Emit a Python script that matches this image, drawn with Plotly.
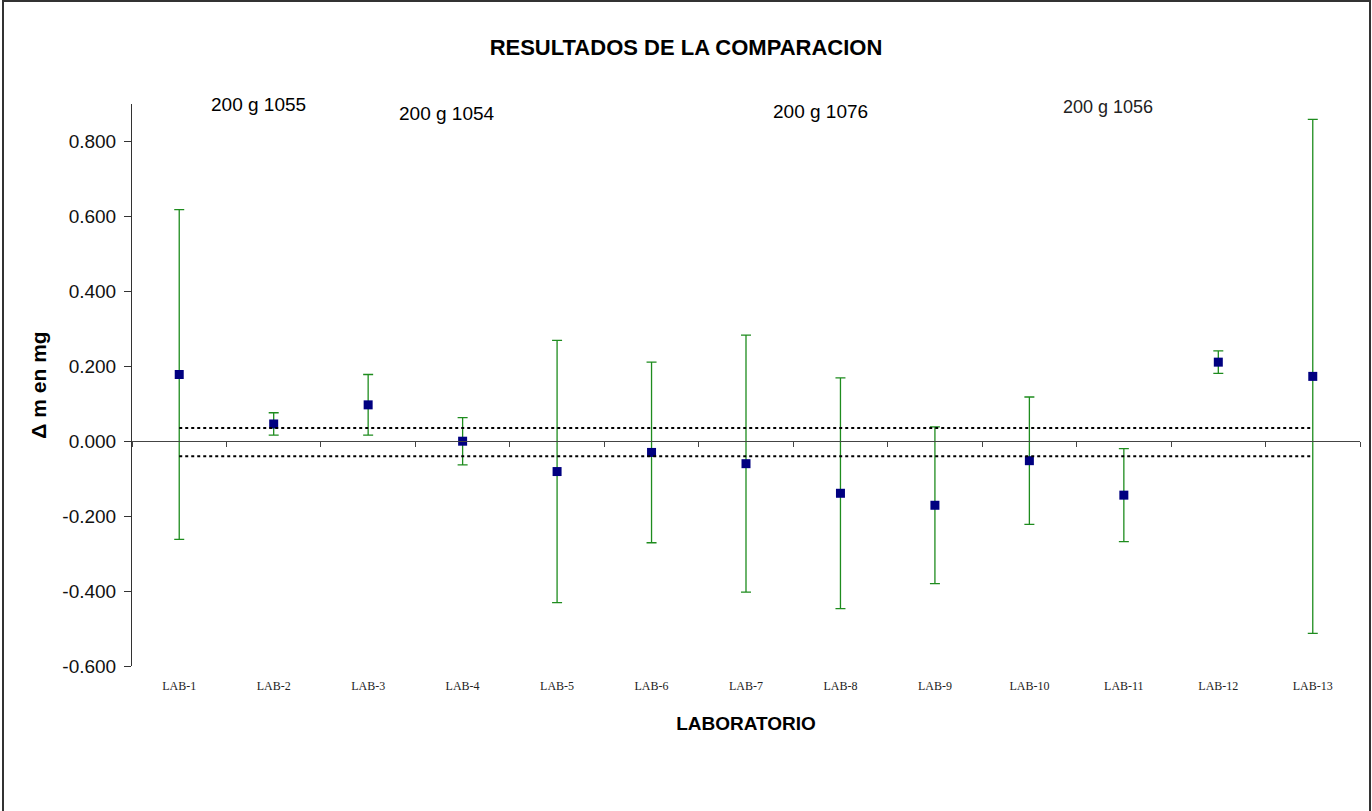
import plotly.graph_objects as go

# Interlaboratory comparison: deviation per laboratory with expanded uncertainty
labs = ["LAB-1", "LAB-2", "LAB-3", "LAB-4", "LAB-5", "LAB-6", "LAB-7",
        "LAB-8", "LAB-9", "LAB-10", "LAB-11", "LAB-12", "LAB-13"]
delta_mg = [0.178, 0.046, 0.097, 0.000, -0.081, -0.030, -0.060,
            -0.139, -0.171, -0.052, -0.144, 0.211, 0.173]
uncert_mg = [0.440, 0.030, 0.081, 0.063, 0.350, 0.241, 0.343,
             0.308, 0.209, 0.170, 0.124, 0.030, 0.686]

# Reference value uncertainty band (upper / lower limits)
upper_limit = [0.035] * len(labs)
lower_limit = [-0.040] * len(labs)

y_ticks = [-0.6, -0.4, -0.2, 0.0, 0.2, 0.4, 0.6, 0.8]
y_ticktext = ["-0.600", "-0.400", "-0.200", "0.000", "0.200", "0.400", "0.600", "0.800"]

# Mass standard labels written over the plot: (text, x position, y position)
mass_labels = ["200 g 1055", "200 g 1054", "200 g 1076", "200 g 1056"]
mass_label_x = [1.84, 3.83, 7.79, 10.83]
mass_label_y = [0.899, 0.875, 0.880, 0.893]

x_pos = list(range(1, len(labs) + 1))
boundaries = [i + 0.5 for i in range(0, len(labs) + 1)]

fig = go.Figure()

fig.add_trace(go.Scatter(
    x=x_pos, y=upper_limit, mode="lines", xaxis="x2",
    line=dict(color="black", width=2, dash="dot"), showlegend=False, hoverinfo="skip"))
fig.add_trace(go.Scatter(
    x=x_pos, y=lower_limit, mode="lines", xaxis="x2",
    line=dict(color="black", width=2, dash="dot"), showlegend=False, hoverinfo="skip"))

fig.add_trace(go.Scatter(
    x=x_pos, y=delta_mg, mode="markers",
    marker=dict(symbol="square", size=9, color="#000080", line=dict(width=0)),
    error_y=dict(type="data", array=uncert_mg, symmetric=True,
                 color="#1e8c1e", thickness=1.3, width=5),
    showlegend=False))

for txt, xx, yy in zip(mass_labels, mass_label_x, mass_label_y):
    last = txt == mass_labels[-1]
    fig.add_annotation(
        x=xx, y=yy, xref="x", yref="y", text=txt, showarrow=False,
        font=dict(family="Liberation Sans, Arial", size=19 if not last else 18,
                  color="#000000" if not last else "#222222"))

fig.update_layout(
    width=1372, height=811,
    margin=dict(l=132, r=12, t=104, b=145, pad=0),
    paper_bgcolor="white", plot_bgcolor="white",
    title=dict(text="<b>RESULTADOS DE LA COMPARACION</b>", x=0.5, xref="container",
               y=1 - 47 / 811, yref="container", xanchor="center", yanchor="middle",
               font=dict(family="Liberation Sans, Arial", size=22, color="black")),
    xaxis=dict(range=[0.5, 13.5], tickmode="array", tickvals=x_pos, ticktext=labs,
               showline=False, showgrid=False, zeroline=False, ticks="",
               ticklabelstandoff=11,
               tickfont=dict(family="Liberation Serif, Times New Roman", size=12, color="#222"),
               title=dict(text="<b>LABORATORIO</b>", standoff=24,
                          font=dict(family="Liberation Sans, Arial", size=19, color="black"))),
    xaxis2=dict(range=[0.5, 13.5], overlaying="x", anchor="free", position=0.4,
                side="bottom", tickmode="array", tickvals=boundaries,
                showticklabels=False, ticks="outside", ticklen=5, tickcolor="#444",
                showline=True, linecolor="#444", linewidth=1,
                showgrid=False, zeroline=False),
    yaxis=dict(range=[-0.6, 0.9], tickmode="array", tickvals=y_ticks, ticktext=y_ticktext,
               showline=True, linecolor="#333", linewidth=1, ticks="outside", ticklen=7,
               tickcolor="#333", showgrid=False, zeroline=False, ticklabelstandoff=4,
               tickfont=dict(family="Liberation Sans, Arial", size=19, color="#111"),
               title=dict(text="<b>Δ m en mg</b>", standoff=9,
                          font=dict(family="Liberation Sans, Arial", size=21, color="black"))),
)

# Chart area frame
fig.add_shape(type="rect", xref="paper", yref="paper",
              x0=(3 - 132) / 1228, x1=(1370 - 132) / 1228,
              y0=-0.3, y1=(666 - 1) / 562,
              line=dict(color="#333", width=2), layer="below")

fig.write_html("out.html")
